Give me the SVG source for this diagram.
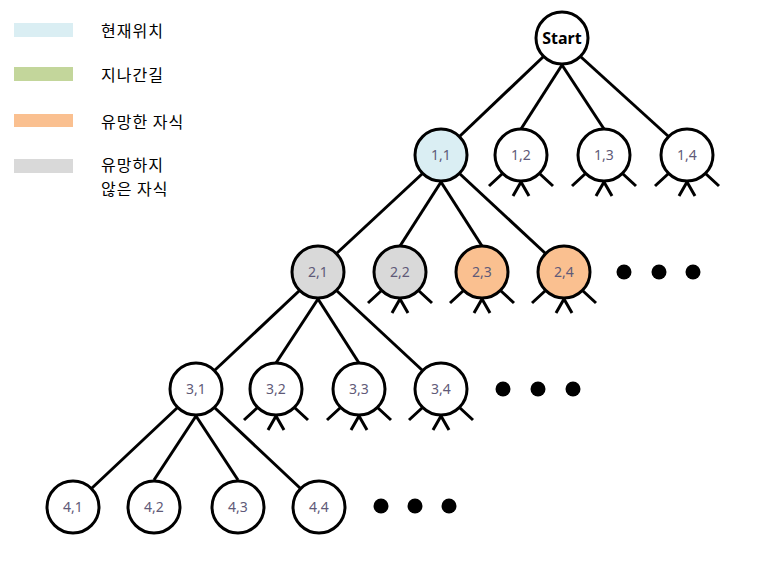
<svg xmlns="http://www.w3.org/2000/svg" xmlns:xlink="http://www.w3.org/1999/xlink" width="775" height="564" viewBox="0 0 775 564">
<style>
.node{stroke:#000;stroke-width:3;fill:#fff}
.cur{fill:#DAEEF3}
.bad{fill:#D9D9D9}
.good{fill:#FAC090}
.lbl{font-family:"Noto Sans","Liberation Sans",sans-serif;font-size:14px;fill:#5f5a78;text-anchor:middle}
.start{font-family:"Noto Sans","Liberation Sans",sans-serif;font-size:16px;font-weight:bold;fill:#000;text-anchor:middle}
.leg{font-family:"Noto Sans CJK KR","Noto Sans",sans-serif;font-size:16px;letter-spacing:1px;fill:#000}
.edge{stroke:#000;stroke-width:3;fill:none}
.dot{fill:#000}
</style>
<defs>
<path id="stubs" d="M-19,19 L-32,31 M19,19 L32,31 M0,27 L-8,41 M0,27 L8,41" stroke="#000" stroke-width="3" fill="none"/>
</defs>
<rect width="775" height="564" fill="#fff"/>
<g id="legend">
<rect x="14" y="23" width="59" height="14" fill="#DAEEF3"/>
<rect x="14" y="67" width="59" height="14" fill="#C3D69B"/>
<rect x="14" y="114" width="59" height="13" fill="#FAC090"/>
<rect x="14" y="159" width="59" height="14" fill="#D9D9D9"/>
<text class="leg" x="101" y="37">현재위치</text>
<text class="leg" x="101" y="81">지나간길</text>
<text class="leg" x="101" y="128">유망한 자식</text>
<text class="leg" x="101" y="171">유망하지</text>
<text class="leg" x="101" y="195">않은 자식</text>
</g>
<g id="connectors" class="edge">
<line x1="543" y1="57" x2="460" y2="136"/>
<line x1="562" y1="65" x2="521" y2="129"/>
<line x1="562" y1="65" x2="604" y2="129"/>
<line x1="581" y1="57" x2="668" y2="136"/>
<line x1="422" y1="174" x2="337" y2="253"/>
<line x1="441" y1="182" x2="400" y2="246"/>
<line x1="441" y1="182" x2="482" y2="246"/>
<line x1="460" y1="174" x2="545" y2="253"/>
<line x1="299" y1="291" x2="215" y2="370"/>
<line x1="318" y1="299" x2="276" y2="363"/>
<line x1="318" y1="299" x2="359" y2="363"/>
<line x1="337" y1="291" x2="422" y2="370"/>
<line x1="177" y1="408" x2="92" y2="488"/>
<line x1="196" y1="416" x2="154" y2="480"/>
<line x1="196" y1="416" x2="238" y2="480"/>
<line x1="215" y1="408" x2="300" y2="488"/>
</g>
<g id="stub-lines">
<use xlink:href="#stubs" href="#stubs" x="521" y="155"/>
<use xlink:href="#stubs" href="#stubs" x="604" y="155"/>
<use xlink:href="#stubs" href="#stubs" x="687" y="155"/>
<use xlink:href="#stubs" href="#stubs" x="400" y="272"/>
<use xlink:href="#stubs" href="#stubs" x="482" y="272"/>
<use xlink:href="#stubs" href="#stubs" x="564" y="272"/>
<use xlink:href="#stubs" href="#stubs" x="276" y="389"/>
<use xlink:href="#stubs" href="#stubs" x="359" y="389"/>
<use xlink:href="#stubs" href="#stubs" x="441" y="389"/>
</g>
<g id="node-start"><circle class="node" cx="562" cy="38" r="26"/><text class="start" x="562" y="44">Start</text></g>
<g id="node-1-1"><circle class="node cur" cx="441" cy="155" r="26"/><text class="lbl" x="441" y="160">1,1</text></g>
<g id="node-1-2"><circle class="node" cx="521" cy="155" r="26"/><text class="lbl" x="521" y="160">1,2</text></g>
<g id="node-1-3"><circle class="node" cx="604" cy="155" r="26"/><text class="lbl" x="604" y="160">1,3</text></g>
<g id="node-1-4"><circle class="node" cx="687" cy="155" r="26"/><text class="lbl" x="687" y="160">1,4</text></g>
<g id="node-2-1"><circle class="node bad" cx="318" cy="272" r="26"/><text class="lbl" x="318" y="277">2,1</text></g>
<g id="node-2-2"><circle class="node bad" cx="400" cy="272" r="26"/><text class="lbl" x="400" y="277">2,2</text></g>
<g id="node-2-3"><circle class="node good" cx="482" cy="272" r="26"/><text class="lbl" x="482" y="277">2,3</text></g>
<g id="node-2-4"><circle class="node good" cx="564" cy="272" r="26"/><text class="lbl" x="564" y="277">2,4</text></g>
<g id="node-3-1"><circle class="node" cx="196" cy="389" r="26"/><text class="lbl" x="196" y="394">3,1</text></g>
<g id="node-3-2"><circle class="node" cx="276" cy="389" r="26"/><text class="lbl" x="276" y="394">3,2</text></g>
<g id="node-3-3"><circle class="node" cx="359" cy="389" r="26"/><text class="lbl" x="359" y="394">3,3</text></g>
<g id="node-3-4"><circle class="node" cx="441" cy="389" r="26"/><text class="lbl" x="441" y="394">3,4</text></g>
<g id="node-4-1"><circle class="node" cx="73" cy="507" r="26"/><text class="lbl" x="73" y="512">4,1</text></g>
<g id="node-4-2"><circle class="node" cx="154" cy="507" r="26"/><text class="lbl" x="154" y="512">4,2</text></g>
<g id="node-4-3"><circle class="node" cx="238" cy="507" r="26"/><text class="lbl" x="238" y="512">4,3</text></g>
<g id="node-4-4"><circle class="node" cx="319" cy="507" r="26"/><text class="lbl" x="319" y="512">4,4</text></g>
<g id="ellipses">
<circle class="dot" cx="624" cy="272" r="7.5"/><circle class="dot" cx="659" cy="272" r="7.5"/><circle class="dot" cx="693" cy="272" r="7.5"/>
<circle class="dot" cx="503" cy="389" r="7.5"/><circle class="dot" cx="538" cy="389" r="7.5"/><circle class="dot" cx="573" cy="389" r="7.5"/>
<circle class="dot" cx="381" cy="506" r="7.5"/><circle class="dot" cx="415" cy="506" r="7.5"/><circle class="dot" cx="449" cy="506" r="7.5"/>
</g>
</svg>
